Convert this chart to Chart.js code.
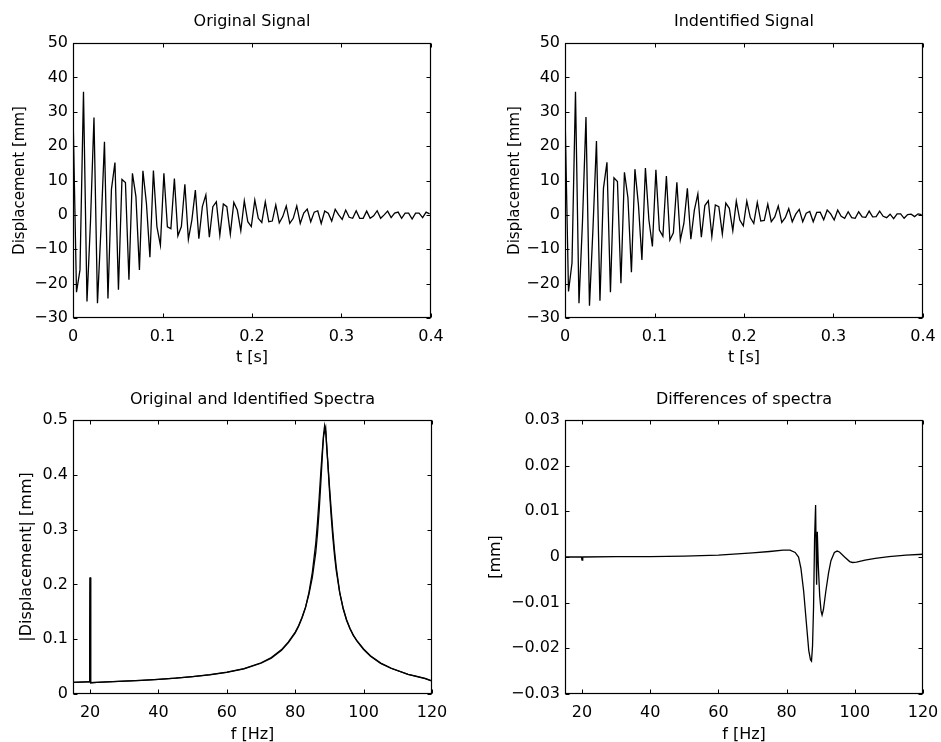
<!DOCTYPE html>
<html>
<head>
<meta charset="utf-8">
<script src="https://cdn.jsdelivr.net/npm/chart.js@4/dist/chart.umd.min.js"></script>
<style>
  html, body { margin: 0; padding: 0; background: #fff; overflow: hidden; }
  body { width: 941px; height: 742px; position: relative; }
  canvas { position: absolute; }
</style>
</head>
<body>
<canvas id="c1" width="470" height="371" style="left:0;top:0"></canvas>
<canvas id="c2" width="471" height="371" style="left:470px;top:0"></canvas>
<canvas id="c3" width="470" height="380" style="left:0;top:371px"></canvas>
<canvas id="c4" width="471" height="380" style="left:470px;top:371px"></canvas>
<script>
// sampling rate of the time signals [Hz]
const fs = 256;

// displacement samples [mm]
const sigOriginal = [
  30, -22.5, -16, 35.8, -25.2, -2, 28.3, -25.7, -4, 21.3,
  -24.3, 7.5, 15.2, -21.8, 10.3, 9.4, -18.9, 12.1, 5.3, -16,
  12.8, 3.4, -12.3, 12.9, -3.4, -8.8, 12.1, -3.5, -4, 10.6,
  -6.1, -3.4, 8.9, -7.1, -1.5, 7.2, -6.9, 2.4, 5.8, -6.5,
  2.4, 3.8, -5.9, 3.2, 2.4, -5.6, 3.6, 1.4, -4.6, 4.1,
  -2, -3.4, 4.3, -1, -2.2, 3.8, -2, -1.8, 2.9, -2.3,
  -0.5, 2.6, -2.5, -1, 2.6, -2.5, 0.5, 1.7, -2, 0.8,
  1.2, -2.5, 1.1, 0.5, -1.8, 1.6, 0, -1.3, 1.4, -0.7,
  -1, 1.2, -1, -1, 1.1, -1, -0.3, 1.2, -1, 0,
  1.1, -0.8, 0.5, 0.8, -1, 0.5, 0.5, -1.2, 0.5, 0.5,
  -0.8, 0.8, 0.3
];
const sigIdentified = [
  30, -22.3, -14, 35.8, -25.7, -2, 28.5, -26.4, -4, 21.5,
  -25, 7.7, 15.3, -22.5, 10.8, 9.7, -19.9, 12.4, 5, -16.7,
  13.3, 3, -13.1, 13.6, -1.5, -9.2, 13.1, -4.4, -6.2, 11.3,
  -7.3, -5.2, 9.5, -7.3, -2.5, 7.7, -7.1, 1.4, 6.1, -6.5,
  2.7, 4.1, -6.3, 2.9, 2.4, -5.6, 3.4, 1.9, -4.6, 4.0,
  -1.5, -3.2, 4.0, -0.8, -2.5, 3.6, -1.8, -1.6, 3.1, -2.0,
  -0.6, 2.6, -2.2, -0.8, 1.8, -2.0, 0.2, 1.6, -2.0, 0.5,
  1.0, -2.0, 0.7, 0.8, -1.4, 1.4, 0.3, -1.5, 1.4, -0.4,
  -1.0, 0.9, -0.8, -1.0, 0.9, -0.6, -0.7, 1.1, -0.6, -0.5,
  1.1, -0.4, -0.8, 0.2, -1.1, 0.3, 0.3, -1.0, 0.1, 0.2,
  -0.5, 0.3, 0.1
];

// spectra |Displacement| [mm]
const specFreq = [
  15, 17, 19, 19.8, 19.9, 20, 20.1, 20.2, 22, 25,
  30, 35, 40, 45, 50, 55, 60, 65, 70, 73,
  76, 78, 80, 81, 82, 83, 84, 85, 86, 86.5,
  87, 87.5, 88, 88.3, 88.6, 88.9, 89.2, 89.5, 90, 90.5,
  91, 91.5, 92, 93, 94, 95, 96, 97, 98, 100,
  102, 105, 108, 110, 113, 115, 118, 120
];
const specOriginal = [
  0.0212, 0.0216, 0.0221, 0.0223, 0.10, 0.213, 0.05, 0.0205, 0.0211, 0.0221,
  0.0235, 0.0250, 0.0268, 0.0290, 0.0318, 0.0352, 0.0398, 0.0465, 0.0570, 0.0665,
  0.0810, 0.0950, 0.113, 0.125, 0.140, 0.158, 0.182, 0.213, 0.258, 0.292,
  0.335, 0.387, 0.443, 0.475, 0.490, 0.480, 0.455, 0.425, 0.372, 0.325,
  0.285, 0.252, 0.225, 0.185, 0.157, 0.136, 0.120, 0.107, 0.097, 0.081,
  0.069, 0.056, 0.047, 0.0425, 0.036, 0.033, 0.0285, 0.024
];
const specIdentified = [
  0.0212, 0.0216, 0.0221, 0.0223, 0.10, 0.212, 0.05, 0.0205, 0.0211, 0.0221,
  0.0235, 0.0250, 0.0268, 0.0288, 0.0316, 0.0348, 0.0394, 0.0458, 0.0561, 0.0654,
  0.0798, 0.0936, 0.1115, 0.1235, 0.1390, 0.1578, 0.185, 0.222, 0.275, 0.313,
  0.358, 0.407, 0.450, 0.471, 0.479, 0.486, 0.450, 0.425, 0.380, 0.3375,
  0.2966, 0.261, 0.231, 0.186, 0.156, 0.1347, 0.119, 0.107, 0.0978, 0.0822,
  0.0698, 0.0563, 0.0471, 0.0424, 0.0358, 0.0327, 0.0281, 0.0234
];

// differences of spectra [mm]
const diffFreq = [
  15, 19.8, 20, 20.2, 30, 40, 50, 60, 70, 75,
  79, 81, 82.5, 83.5, 84.2, 85, 85.8, 86.5, 87, 87.3,
  87.6, 87.9, 88.2, 88.5, 88.65, 88.8, 89.0, 89.3, 89.7, 90.1,
  90.4, 90.8, 91.5, 92.3, 93, 94, 94.8, 95.5, 97, 98.5,
  99.3, 100.5, 103, 106, 110, 115, 120
];
const diffValues = [
  0.0, 0.0, -0.0007, 0.0, 0.0001, 0.0001, 0.0002, 0.0004, 0.0009, 0.0012,
  0.0015, 0.0015, 0.0010, 0.0, -0.0025, -0.0075, -0.0145, -0.0205, -0.0225, -0.0228,
  -0.0195, -0.0110, 0.0040, 0.0114, 0.0020, -0.0061, 0.0055, -0.0020, -0.0085, -0.0118,
  -0.0127, -0.0115, -0.0075, -0.0035, -0.0008, 0.0010, 0.0013, 0.0011, 0.0, -0.0010,
  -0.0012, -0.0011, -0.0007, -0.0003, 0.0001, 0.0004, 0.0006
];

// ticks
const tTicks = [0, 0.1, 0.2, 0.3, 0.4];
const tLabels = ['0', '0.1', '0.2', '0.3', '0.4'];
const dispTicks = [-30, -20, -10, 0, 10, 20, 30, 40, 50];
const dispLabels = ['\u221230', '\u221220', '\u221210', '0', '10', '20', '30', '40', '50'];
const fTicks = [20, 40, 60, 80, 100, 120];
const fLabels = ['20', '40', '60', '80', '100', '120'];
const magTicks = [0, 0.1, 0.2, 0.3, 0.4, 0.5];
const magLabels = ['0', '0.1', '0.2', '0.3', '0.4', '0.5'];
const diffTicks = [-0.03, -0.02, -0.01, 0, 0.01, 0.02, 0.03];
const diffLabels = ['\u22120.03', '\u22120.02', '\u22120.01', '0', '0.01', '0.02', '0.03'];

const FONT = "'DejaVu Sans', Verdana, sans-serif";

// box round the plot with inward tick marks on all four sides (matlab style)
const boxTicks = {
  id: 'boxTicks',
  afterDraw(chart) {
    const ctx = chart.ctx;
    const a = chart.chartArea;
    const x = chart.scales.x, y = chart.scales.y;
    const L = Math.round(a.left) + 0.5, R = Math.round(a.right) - 0.5;
    const T = Math.round(a.top) + 0.5, B = Math.round(a.bottom) - 0.5;
    ctx.save();
    ctx.strokeStyle = '#000';
    ctx.lineWidth = 1;
    ctx.beginPath();
    x.ticks.forEach(t => {
      const px = Math.round(x.getPixelForValue(t.value)) + 0.5;
      ctx.moveTo(px, B); ctx.lineTo(px, B - 4);
      ctx.moveTo(px, T); ctx.lineTo(px, T + 4);
    });
    y.ticks.forEach(t => {
      const py = Math.round(y.getPixelForValue(t.value)) + 0.5;
      ctx.moveTo(L, py); ctx.lineTo(L + 4, py);
      ctx.moveTo(R, py); ctx.lineTo(R - 4, py);
    });
    ctx.stroke();
    ctx.lineWidth = 1.2;
    ctx.strokeRect(L, T, R - L, B - T);
    ctx.restore();
  }
};

function makeChart(id, p) {
  new Chart(document.getElementById(id), {
    type: 'line',
    data: { datasets: p.datasets },
    options: {
      responsive: false,
      animation: false,
      events: [],
      layout: { padding: { left: 0, top: 0, right: p.padRight, bottom: 0 } },
      plugins: {
        legend: { display: false },
        tooltip: { enabled: false },
        title: {
          display: true, text: p.title, color: '#000', fullSize: false,
          font: { family: FONT, size: 16, weight: 'normal' },
          padding: { top: p.titleTop, bottom: p.titleBottom }
        }
      },
      scales: {
        x: {
          type: 'linear', min: p.xMin, max: p.xMax,
          afterBuildTicks: s => { s.ticks = p.xTicks.map(v => ({ value: v })); },
          afterFit: s => { s.height = p.xHeight; s.paddingLeft = 0; s.paddingRight = 0; },
          grid: { display: false, drawTicks: false },
          border: { display: false },
          ticks: {
            autoSkip: false, maxRotation: 0, color: '#000', padding: 9,
            font: { family: FONT, size: 16 },
            callback: (v, i) => p.xLabels[i]
          },
          title: {
            display: true, text: p.xTitle, color: '#000',
            font: { family: FONT, size: 16 },
            padding: { top: 0, bottom: p.xTitleBottom }
          }
        },
        y: {
          type: 'linear', min: p.yMin, max: p.yMax,
          afterBuildTicks: s => { s.ticks = p.yTicks.map(v => ({ value: v })); },
          afterFit: s => { s.width = p.yWidth; s.paddingTop = 0; s.paddingBottom = 0; },
          grid: { display: false, drawTicks: false },
          border: { display: false },
          ticks: {
            autoSkip: false, color: '#000', padding: 5,
            font: { family: FONT, size: 16 },
            callback: (v, i) => p.yLabels[i]
          },
          title: {
            display: true, text: p.yTitle, color: '#000',
            font: { family: FONT, size: p.yTitleSize },
            padding: { top: p.yTitleTop, bottom: 0 }
          }
        }
      }
    },
    plugins: [boxTicks]
  });
}

function lineSet(points) {
  return { data: points, borderColor: '#000', borderWidth: 1.3, pointRadius: 0, tension: 0, fill: false };
}

const timeOriginal = sigOriginal.map((v, k) => ({ x: k / fs, y: v }));
const timeIdentified = sigIdentified.map((v, k) => ({ x: k / fs, y: v }));

makeChart('c1', {
  title: 'Original Signal', titleTop: 12, titleBottom: 11.8, padRight: 39,
  datasets: [lineSet(timeOriginal)],
  xMin: 0, xMax: 0.4, xTicks: tTicks, xLabels: tLabels, xTitle: 't [s]', xHeight: 53, xTitleBottom: 3.5,
  yMin: -30, yMax: 50, yTicks: dispTicks, yLabels: dispLabels, yTitle: 'Displacement [mm]', yWidth: 73,
  yTitleTop: 11, yTitleSize: 15
});
makeChart('c2', {
  title: 'Indentified Signal', titleTop: 12, titleBottom: 11.8, padRight: 18,
  datasets: [lineSet(timeIdentified)],
  xMin: 0, xMax: 0.4, xTicks: tTicks, xLabels: tLabels, xTitle: 't [s]', xHeight: 53, xTitleBottom: 3.5,
  yMin: -30, yMax: 50, yTicks: dispTicks, yLabels: dispLabels, yTitle: 'Displacement [mm]', yWidth: 95,
  yTitleTop: 36, yTitleSize: 15
});
makeChart('c3', {
  title: 'Original and Identified Spectra', titleTop: 19.4, titleBottom: 10.4, padRight: 38,
  datasets: [
    lineSet(specFreq.map((f, i) => ({ x: f, y: specOriginal[i] }))),
    lineSet(specFreq.map((f, i) => ({ x: f, y: specIdentified[i] })))
  ],
  xMin: 15, xMax: 120, xTicks: fTicks, xLabels: fLabels, xTitle: 'f [Hz]', xHeight: 57, xTitleBottom: 6.5,
  yMin: 0, yMax: 0.5, yTicks: magTicks, yLabels: magLabels, yTitle: '|Displacement| [mm]', yWidth: 73,
  yTitleTop: 17, yTitleSize: 16
});
makeChart('c4', {
  title: 'Differences of spectra', titleTop: 19.4, titleBottom: 10.4, padRight: 18,
  datasets: [lineSet(diffFreq.map((f, i) => ({ x: f, y: diffValues[i] })))],
  xMin: 15, xMax: 120, xTicks: fTicks, xLabels: fLabels, xTitle: 'f [Hz]', xHeight: 57, xTitleBottom: 6.5,
  yMin: -0.03, yMax: 0.03, yTicks: diffTicks, yLabels: diffLabels, yTitle: '[mm]', yWidth: 95,
  yTitleTop: 16, yTitleSize: 16
});
</script>
</body>
</html>
